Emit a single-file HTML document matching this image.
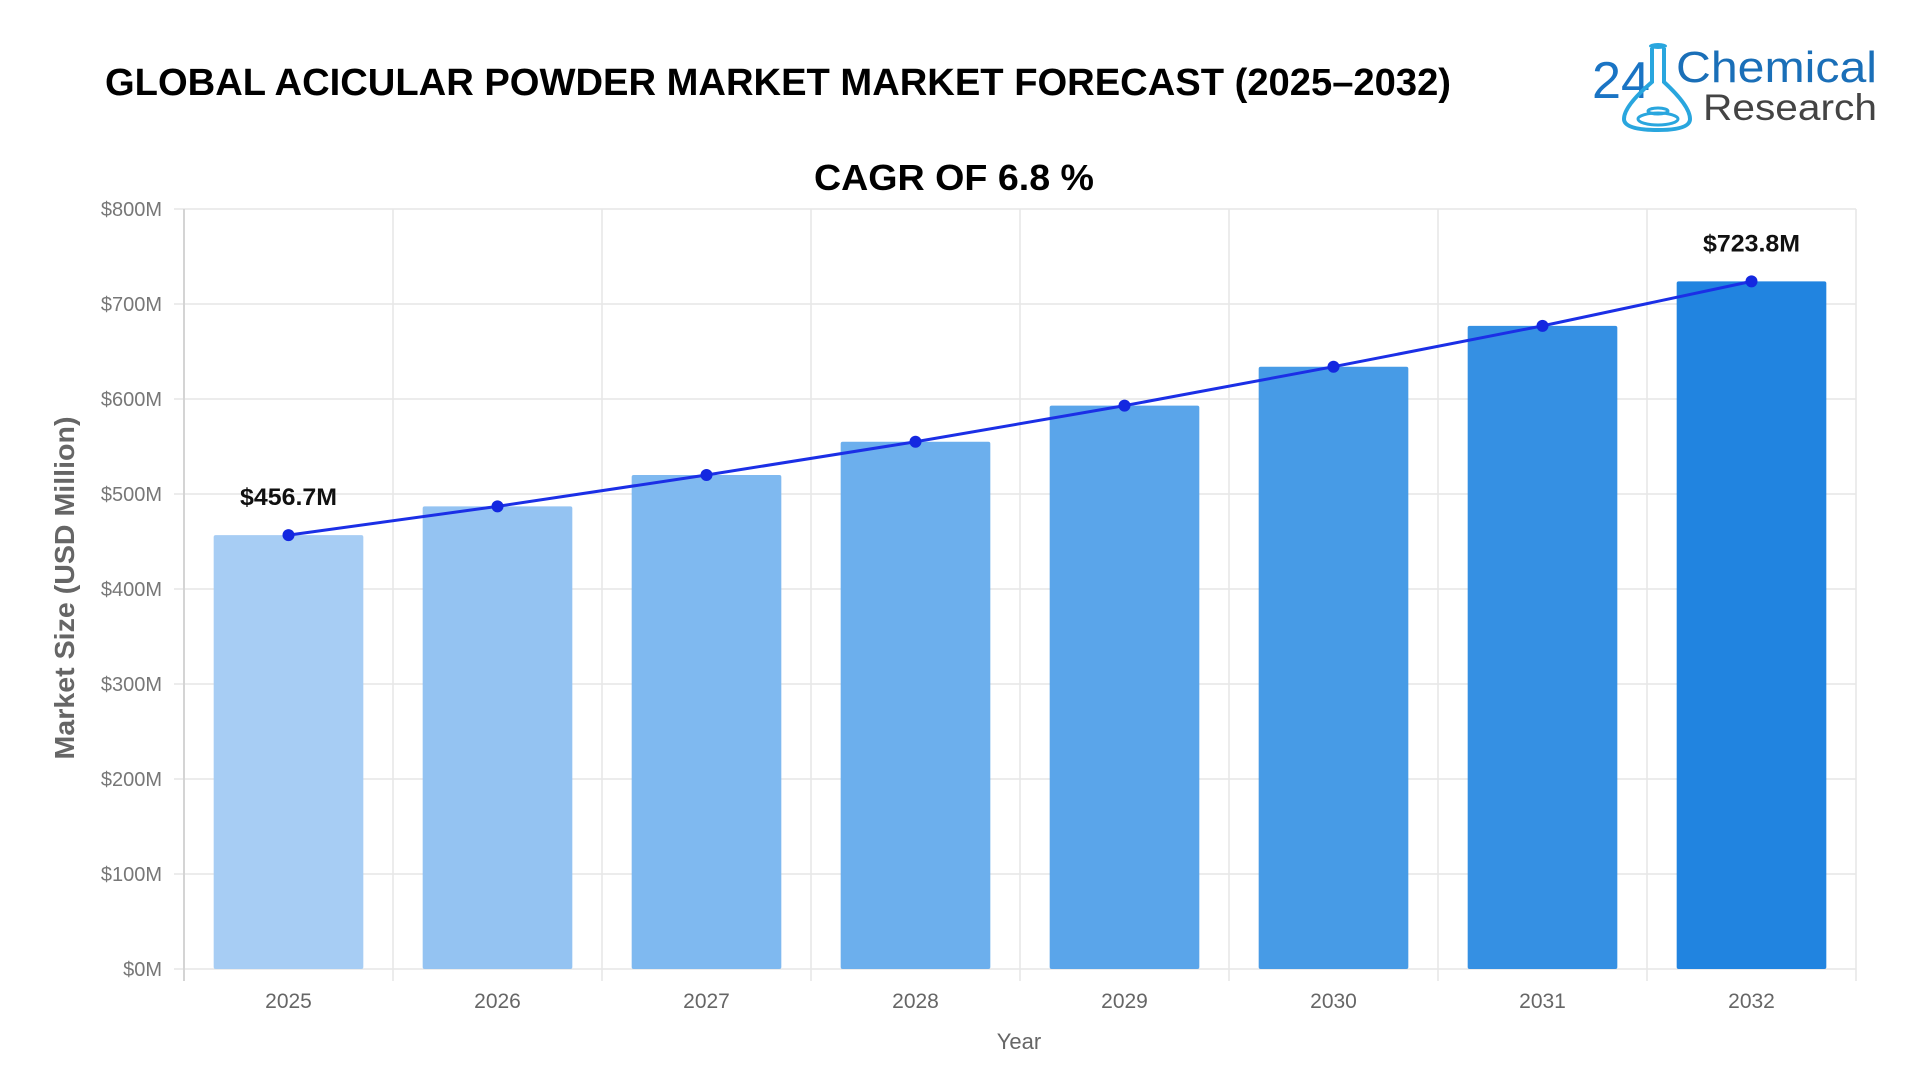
<!DOCTYPE html>
<html><head><meta charset="utf-8"><style>
html,body{margin:0;padding:0;background:#fff;}
svg{display:block;font-family:"Liberation Sans",Arial,sans-serif;}
</style></head><body>
<svg id="chart" width="1920" height="1080" viewBox="0 0 1920 1080">
<text x="105" y="95" font-size="38" font-weight="bold" fill="#000" textLength="1346" lengthAdjust="spacingAndGlyphs">GLOBAL ACICULAR POWDER MARKET MARKET FORECAST (2025–2032)</text>
<text x="954" y="190" font-size="36" font-weight="bold" fill="#000" text-anchor="middle" textLength="280" lengthAdjust="spacingAndGlyphs">CAGR OF 6.8 %</text>
<g>
<text x="1592" y="98" font-size="52" fill="#1a74c4" textLength="58" lengthAdjust="spacingAndGlyphs">24</text>
<path d="M1652 48 L1652 82 Q1624 106 1624 119 Q1624 130 1658 130 Q1690 130 1690 119 Q1690 106 1664 82 L1664 48" fill="none" stroke="#29a6de" stroke-width="4"/>
<ellipse cx="1658" cy="46" rx="9" ry="3" fill="#29a6de"/>
<ellipse cx="1658" cy="119" rx="20" ry="6" fill="none" stroke="#29a6de" stroke-width="3"/>
<ellipse cx="1658" cy="111" rx="10" ry="3" fill="none" stroke="#29a6de" stroke-width="3"/>
<text x="1676" y="82" font-size="44" fill="#1a6fb8" textLength="201" lengthAdjust="spacingAndGlyphs">Chemical</text>
<text x="1703" y="120" font-size="37" fill="#444" textLength="174" lengthAdjust="spacingAndGlyphs">Research</text>
</g>
<g id="grid"></g>
<g id="bars"></g>
<g id="line"></g>
<g id="labels"></g>
<text x="1019" y="1049" font-size="22" fill="#666" text-anchor="middle">Year</text>
<text transform="translate(74,588) rotate(-90)" font-size="28" font-weight="bold" fill="#666" text-anchor="middle" textLength="343" lengthAdjust="spacingAndGlyphs">Market Size (USD Million)</text>
</svg>
<script>
const categories = ["2025","2026","2027","2028","2029","2030","2031","2032"];
const values = [456.7, 487, 520, 555, 593, 634, 677, 723.8];
const yTicks = [0,100,200,300,400,500,600,700,800];
const yTickLabels = ["$0M","$100M","$200M","$300M","$400M","$500M","$600M","$700M","$800M"];
const barColors = ["#a7cdf4","#94c3f2","#7fb9f0","#6cafed","#5aa5ea","#479be6","#3590e3","#2184e0"];
const labelIdx = [0, 7];

const NS = "http://www.w3.org/2000/svg";
const L = 184, R = 1856, Y0 = 969, YTOP = 209, MAX = 800;
const band = (R - L) / categories.length;
const y = v => Y0 - (v / MAX) * (Y0 - YTOP);
const xc = i => L + band * (i + 0.5);
function mk(tag, attrs, parent) {
  const e = document.createElementNS(NS, tag);
  for (const k in attrs) e.setAttribute(k, attrs[k]);
  parent.appendChild(e);
  return e;
}
const grid = document.getElementById("grid");
yTicks.forEach((t, i) => {
  const ln = mk("line", {x1: L - 10, x2: R, y1: y(t), y2: y(t), stroke: "#e6e6e6", "stroke-width": 1.5}, grid);
  
  
  const tx = mk("text", {x: 162, y: y(t) + 7, "font-size": 20, fill: "#777", "text-anchor": "end"}, grid);
  tx.textContent = yTickLabels[i];
  
  
});
for (let i = 0; i <= categories.length; i++) {
  const ln = mk("line", {x1: L + band * i, x2: L + band * i, y1: YTOP, y2: Y0 + 12, stroke: "#e6e6e6", "stroke-width": 1.5}, grid);
  
  
}
mk("line", {x1: L, x2: L, y1: YTOP, y2: Y0 + 12, stroke: "#d4d4d4", "stroke-width": 2}, grid);
categories.forEach((c, i) => {
  const tx = mk("text", {x: xc(i), y: 1008, "font-size": 21, fill: "#666", "text-anchor": "middle"}, grid);
  tx.textContent = c;
  
  
});
const bars = document.getElementById("bars");
const bw = band * 0.716;
values.forEach((v, i) => {
  const r = mk("rect", {x: xc(i) - bw / 2, y: y(v), width: bw, height: Y0 - y(v), fill: barColors[i], rx: 2}, bars);
  
  
});
const lineG = document.getElementById("line");
const pl = mk("polyline", {points: values.map((v, i) => xc(i) + "," + y(v)).join(" "), fill: "none", stroke: "#1b2fe6", "stroke-width": 3}, lineG);


values.forEach((v, i) => {
  const c = mk("circle", {cx: xc(i), cy: y(v), r: 6, fill: "#1428e0"}, lineG);
  
  
});
const labels = document.getElementById("labels");
labelIdx.forEach(i => {
  const t = mk("text", {x: xc(i), y: y(values[i]) - 30, "font-size": 24, "font-weight": "bold", fill: "#111", "text-anchor": "middle", textLength: 97, lengthAdjust: "spacingAndGlyphs"}, labels);
  t.textContent = "$" + values[i].toFixed(1) + "M";
  
  
});
</script>
</body></html>
